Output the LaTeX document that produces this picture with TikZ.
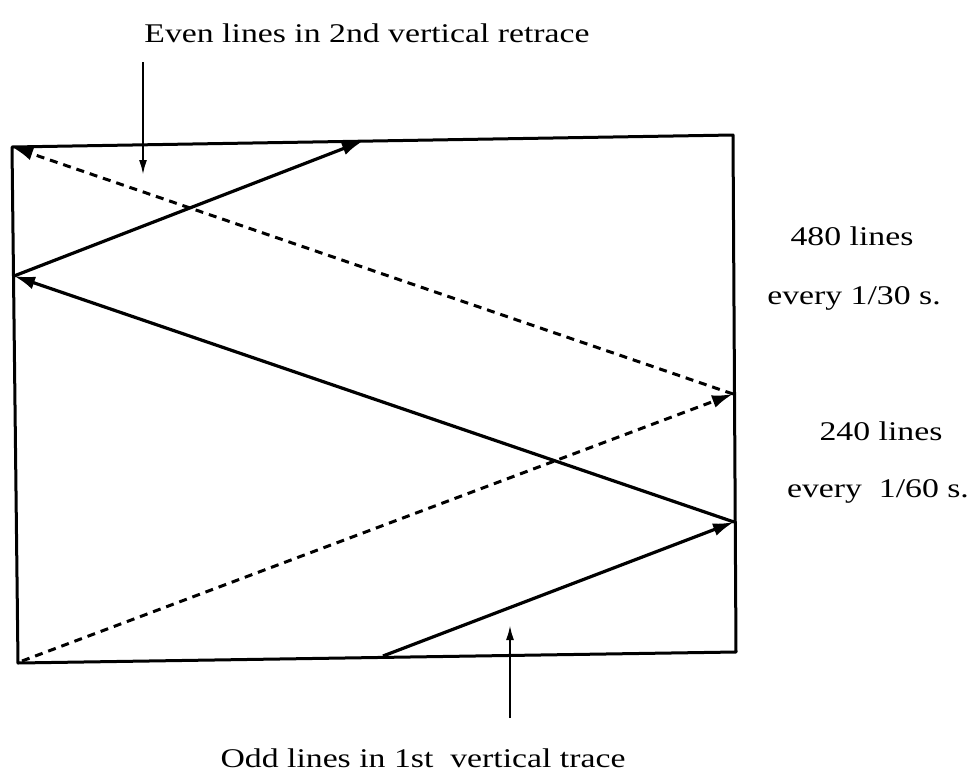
\documentclass[tikz,border=0pt]{standalone}
\usepackage{fontspec}
\setmainfont{Liberation Serif}[FakeStretch=1.25]
\usetikzlibrary{arrows.meta}
\tikzset{
  frame/.style={line width=3pt, line join=round},
  scanline/.style={line width=3.2pt, -{Latex[length=21pt,width=13pt]}},
  retrace/.style={line width=3pt, dash pattern=on 8pt off 6pt, -{Latex[length=21pt,width=13pt]}},
  pointer/.style={line width=2.2pt, -{Latex[length=15pt,width=8pt]}},
  label/.style={inner sep=0pt, anchor=base, font=\fontsize{27}{30}\selectfont}
}
\begin{document}
\begin{tikzpicture}[x=1pt,y=-1pt]
\useasboundingbox (0,0) rectangle (967,772);
% frame corners
\coordinate (TL) at (12,147);
\coordinate (TR) at (733,135);
\coordinate (BR) at (736,652);
\coordinate (BL) at (18,663);
% scan points
\coordinate (TA) at (363,141);
\coordinate (LJ) at (14,276);
\coordinate (RD) at (733,394);
\coordinate (RS) at (734,522);
\coordinate (B3) at (383,656);
\coordinate (BD) at (22,661);
% pointer ends
\coordinate (EvenTop) at (143,62);
\coordinate (EvenTip) at (143,175);
\coordinate (OddBot) at (510,718);
\coordinate (OddTip) at (510,625);

\draw[frame] (TL) -- (TR) -- (BR) -- (BL) -- cycle;

% odd field (solid)
\draw[scanline] (B3) -- (RS);
\draw[scanline] (RS) -- (LJ);
\draw[scanline] (LJ) -- (TA);

% even field (dashed)
\draw[retrace] (BD) -- (RD);
\draw[retrace] (RD) -- (TL);

% pointers
\draw[pointer] (EvenTop) -- (EvenTip);
\draw[pointer] (OddBot) -- (OddTip);

% labels
\node[label] (even) at (367,42) {Even lines in 2nd vertical retrace};
\node[label] (odd) at (423,767) {Odd lines in 1st~ vertical trace};
\node[label] (l480) at (852,245) {480 lines};
\node[label] (t30) at (854,304) {every 1/30 s.};
\node[label] (l240) at (881,440) {240 lines};
\node[label] (t60) at (878,497) {every~ 1/60 s.};
\end{tikzpicture}
\end{document}
